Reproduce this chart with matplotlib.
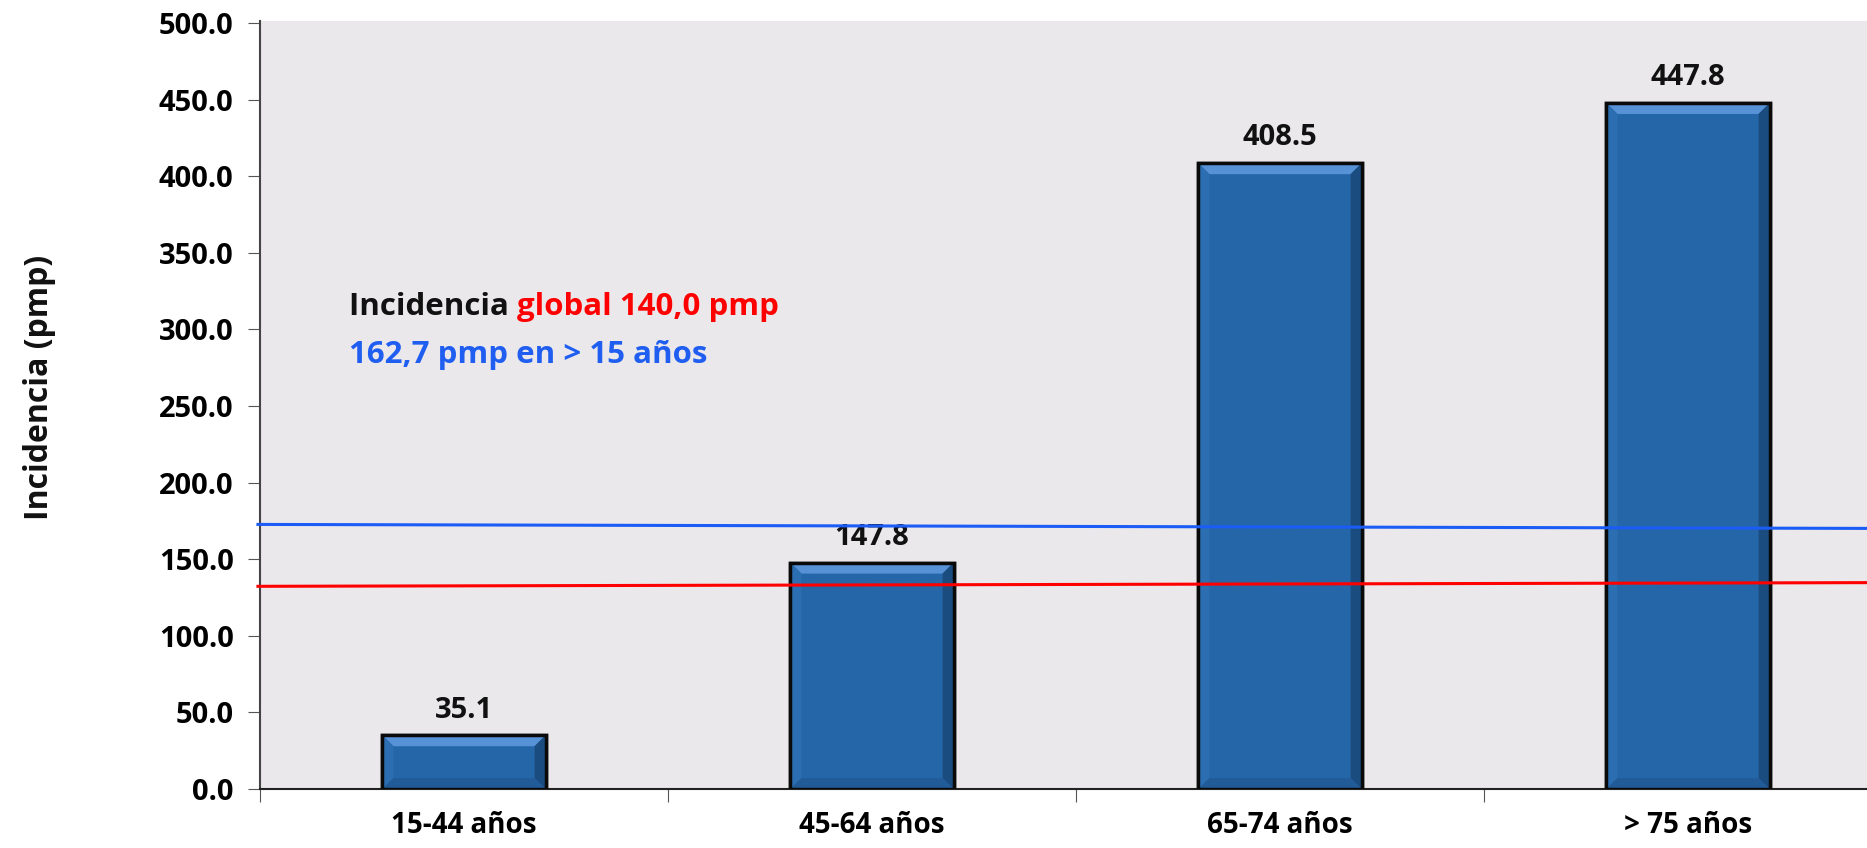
import matplotlib.pyplot as plt
from matplotlib.patches import Polygon
import numpy as np

# incidencia por grupo de edad (pmp)
grupos = ["15-44 años", "45-64 años", "65-74 años", "> 75 años"]
incidencia = [35.1, 147.8, 408.5, 447.8]

# lineas de referencia (valor al inicio y al final del eje)
linea_global = [132.3, 134.7]   # roja, 140,0 pmp global
linea_mayores = [172.7, 170.1]  # azul, 162,7 pmp en > 15 años

yticks = np.arange(0, 501, 50)

FONT = "Open Sans"
W, H = 1867, 848
fig = plt.figure(figsize=(W / 100, H / 100), dpi=100)
ax = fig.add_axes([260 / W, 59 / H, 1 - 260 / W, (789 - 21) / H])
ax.set_facecolor("#EAE8EB")

x0, x1 = -0.5, -0.5 + (W - 260) / 408
ax.set_xlim(x0, x1)
ax.set_ylim(0, 501.3)

pos = np.arange(len(grupos))
bw = 0.40
bars = ax.bar(pos, incidencia, width=bw, color="#2566A8",
              edgecolor="#0A0A0A", linewidth=2.5, zorder=3)

# biselado de las barras (pixeles -> datos)
px_x = (x1 - x0) / (W - 260)
px_y = 501.3 / (789 - 21)
bx, by = 11 * px_x, 11 * px_y
for b in bars:
    l, r = b.get_x(), b.get_x() + b.get_width()
    t = b.get_height()
    faces = [
        ([(l, t), (r, t), (r - bx, t - by), (l + bx, t - by)], "#5792D6"),
        ([(r, t), (r, 0), (r - bx, by), (r - bx, t - by)], "#1B4C80"),
        ([(l, t), (l, 0), (l + bx, by), (l + bx, t - by)], "#2C6EB2"),
        ([(l, 0), (r, 0), (r - bx, by), (l + bx, by)], "#215C98"),
    ]
    for pts, c in faces:
        ax.add_patch(Polygon(pts, closed=True, facecolor=c,
                             edgecolor="none", zorder=3.5))
    ax.add_patch(Polygon([(l, 0), (l, t), (r, t), (r, 0)], closed=True,
                         facecolor="none", edgecolor="#0A0A0A",
                         linewidth=2.5, zorder=4))
    ax.text(b.get_x() + b.get_width() / 2, t + 7, f"{t:.1f}",
            ha="center", va="bottom", fontsize=21, fontweight="bold",
            family=FONT, color="#111111")

ax.plot([x0 - 0.005, x1], linea_mayores, color="#1A5CF5", lw=2.2,
        zorder=5, clip_on=False)
ax.plot([x0 - 0.005, x1], linea_global, color="#FF0000", lw=2.2,
        zorder=5, clip_on=False)

# leyenda de texto en dos colores
t_inc = fig.text(349 / W, (H - 307) / H, "Incidencia ", ha="left",
                 va="center", fontsize=22.5, fontweight="bold",
                 family=FONT, color="#111111")
fig.canvas.draw()
ext = t_inc.get_window_extent()
fig.text(ext.x1 / W, (H - 307) / H, "global 140,0 pmp", ha="left",
         va="center", fontsize=22.5, fontweight="bold", family=FONT,
         color="#FF0000")
fig.text(349 / W, (H - 355) / H, "162,7 pmp en > 15 años", ha="left",
         va="center", fontsize=22.5, fontweight="bold", family=FONT,
         color="#1F5EF0")

ax.set_yticks(yticks)
ax.set_yticklabels([f"{v:.1f}" for v in yticks], fontsize=21,
                   fontweight="bold", family=FONT)
ax.set_xticks(np.arange(-0.5, 3.5, 1.0))
ax.set_xticklabels([])
ax.set_xticks(pos, minor=True)
ax.set_xticklabels(grupos, minor=True, fontsize=20, fontweight="bold",
                   family=FONT)
ax.tick_params(axis="x", which="minor", length=0, pad=16)
ax.tick_params(axis="x", which="major", length=9, color="#555555")
ax.tick_params(axis="y", length=9, color="#555555", pad=10)

for s in ["top", "right"]:
    ax.spines[s].set_visible(False)
ax.spines["left"].set_color("#444444")
ax.spines["left"].set_linewidth(1.5)
ax.spines["bottom"].set_color("#222222")
ax.spines["bottom"].set_linewidth(1.5)

fig.text(39 / W, (H - 387) / H, "Incidencia (pmp)", rotation=90,
         ha="center", va="center", fontsize=23, fontweight="bold",
         family=FONT, color="#111111")

fig.savefig("out.png", dpi=100)
